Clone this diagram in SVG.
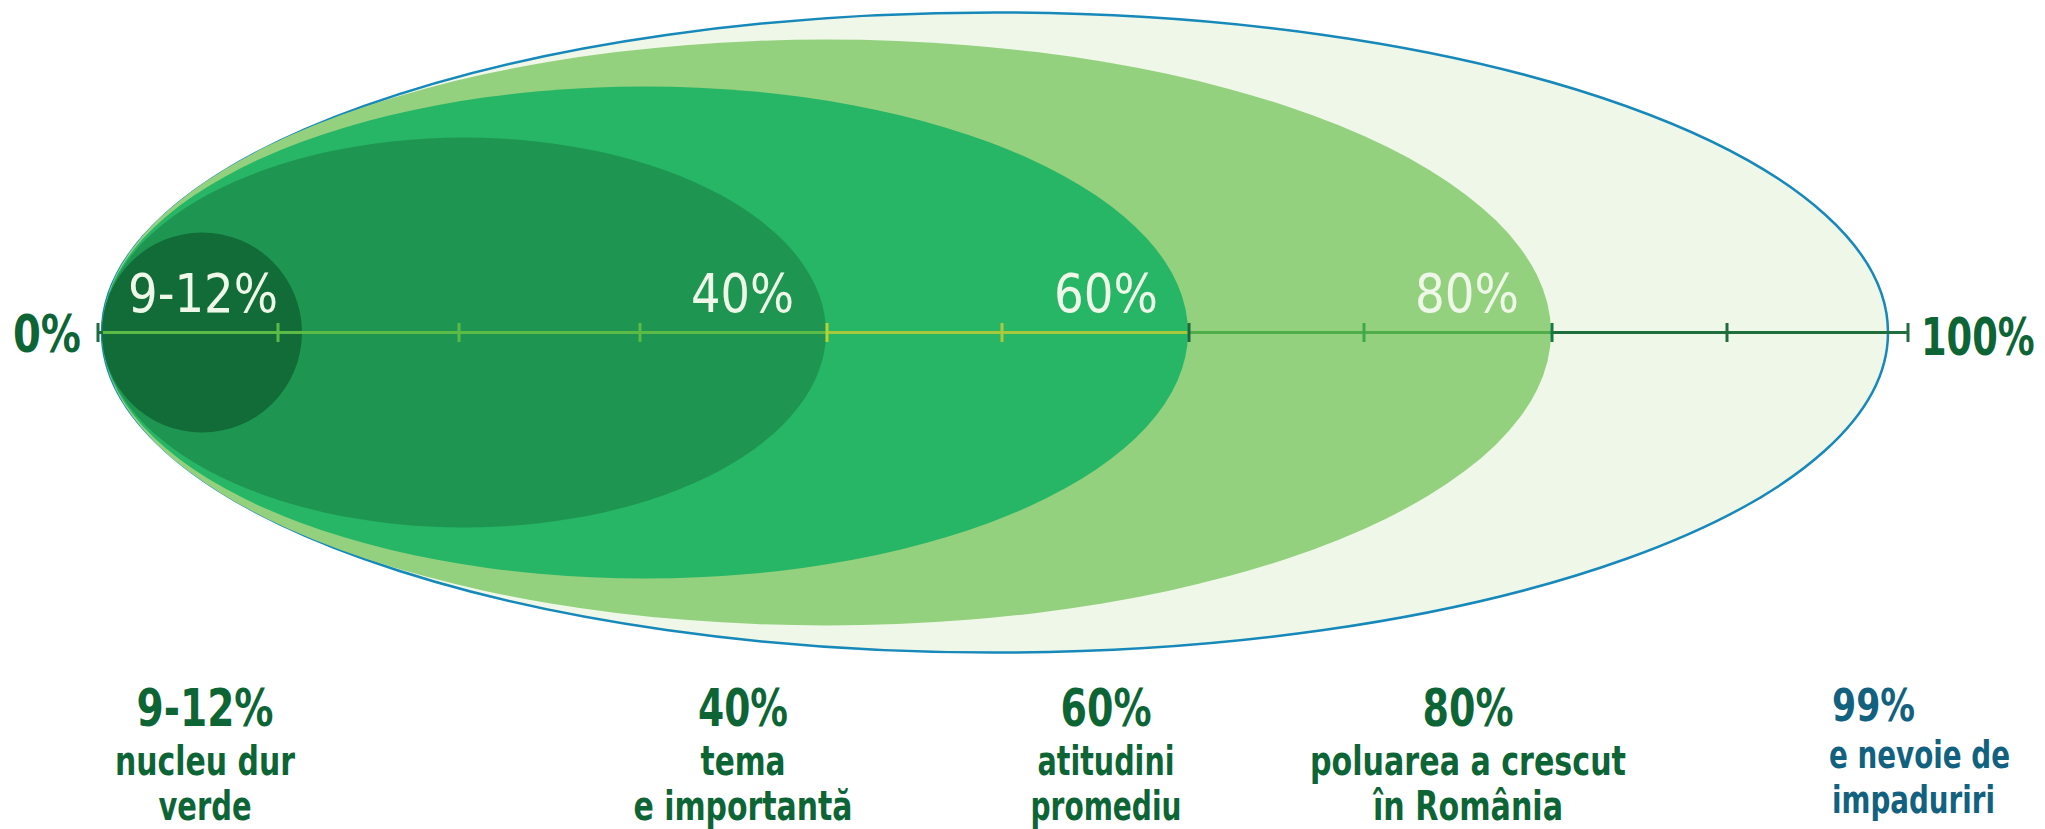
<svg xmlns="http://www.w3.org/2000/svg" width="2045" height="829" viewBox="0 0 2045 829">
<style>
.lbl{font-family:"DejaVu Sans Condensed","DejaVu Sans","Liberation Sans",sans-serif;}
.inner{font-size:54px;fill:#eff8e8;font-weight:normal;}
.end{font-size:51px;fill:#0d6536;font-weight:bold;}
.pct{font-size:52px;font-weight:bold;fill:#0d6536;text-anchor:middle;}
.sub{font-size:40px;font-weight:bold;fill:#0d6536;text-anchor:middle;}
.blue{fill:#12617f;text-anchor:start;}
.tk{stroke-width:3;}
</style>
<rect width="2045" height="829" fill="#ffffff"/>
<g id="ring-100">
<ellipse cx="995" cy="332.5" rx="893" ry="320" fill="#eff8e8" stroke="#1688b9" stroke-width="2.5"/>
</g>
<g id="ring-80">
<ellipse cx="826.5" cy="332.5" rx="724.5" ry="293" fill="#94d17f"/>
</g>
<g id="ring-60">
<ellipse cx="645" cy="332.5" rx="543" ry="246" fill="#27b566"/>
</g>
<g id="ring-40">
<ellipse cx="464" cy="332.5" rx="362" ry="195" fill="#1e9651"/>
</g>
<g id="ring-core">
<circle cx="202" cy="332.5" r="100" fill="#126c38"/>
</g>
<g id="axis">
<line x1="98" y1="332.5" x2="827" y2="332.5" stroke="#5cba47" stroke-width="3"/>
<line x1="98" y1="332.5" x2="103" y2="332.5" stroke="#1f6a3e" stroke-width="3"/>
<line x1="827" y1="332.5" x2="1189" y2="332.5" stroke="#a8c83c" stroke-width="3"/>
<line x1="1189" y1="332.5" x2="1552" y2="332.5" stroke="#4fae4a" stroke-width="3"/>
<line x1="1552" y1="332.5" x2="1908" y2="332.5" stroke="#1f6e3e" stroke-width="3"/>
<g class="tk">
<line x1="98" y1="323" x2="98" y2="342" stroke="#1f6a3e"/>
<line x1="278" y1="323" x2="278" y2="342" stroke="#5cba47"/>
<line x1="459" y1="323" x2="459" y2="342" stroke="#5cba47"/>
<line x1="640" y1="323" x2="640" y2="342" stroke="#5cba47"/>
<line x1="827" y1="323" x2="827" y2="342" stroke="#b5d334"/>
<line x1="1002" y1="323" x2="1002" y2="342" stroke="#aacb3a"/>
<line x1="1189" y1="323" x2="1189" y2="342" stroke="#1a6b3c"/>
<line x1="1364" y1="323" x2="1364" y2="342" stroke="#3fa84a"/>
<line x1="1552" y1="323" x2="1552" y2="342" stroke="#157a40"/>
<line x1="1727" y1="323" x2="1727" y2="342" stroke="#226b3f"/>
<line x1="1908" y1="323" x2="1908" y2="342" stroke="#226b3f"/>
</g>
</g>
<g id="axis-labels">
<text class="lbl end" x="13" y="352" textLength="68" lengthAdjust="spacingAndGlyphs">0%</text>
<g transform="translate(1921,355) scale(0.72,1)">
<text class="lbl end" x="0" y="0" textLength="158" lengthAdjust="spacingAndGlyphs">100%</text>
</g>
</g>
<g id="inner-labels">
<text class="lbl inner" x="128" y="312" textLength="150" lengthAdjust="spacingAndGlyphs">9-12%</text>
<text class="lbl inner" x="691" y="312" textLength="103" lengthAdjust="spacingAndGlyphs">40%</text>
<text class="lbl inner" x="1054" y="312" textLength="104" lengthAdjust="spacingAndGlyphs">60%</text>
<text class="lbl inner" x="1415" y="312" textLength="104" lengthAdjust="spacingAndGlyphs">80%</text>
</g>
<g id="label-core">
<text class="lbl pct" x="205" y="726" textLength="137" lengthAdjust="spacingAndGlyphs">9-12%</text>
<text class="lbl sub" x="205" y="775" textLength="180" lengthAdjust="spacingAndGlyphs">nucleu dur</text>
<text class="lbl sub" x="205" y="820" textLength="93" lengthAdjust="spacingAndGlyphs">verde</text>
</g>
<g id="label-40">
<text class="lbl pct" x="743" y="726" textLength="90" lengthAdjust="spacingAndGlyphs">40%</text>
<text class="lbl sub" x="743" y="775" textLength="85" lengthAdjust="spacingAndGlyphs">tema</text>
<text class="lbl sub" x="743" y="820" textLength="219" lengthAdjust="spacingAndGlyphs">e importantă</text>
</g>
<g id="label-60">
<text class="lbl pct" x="1106" y="726" textLength="91" lengthAdjust="spacingAndGlyphs">60%</text>
<text class="lbl sub" x="1106" y="775" textLength="137" lengthAdjust="spacingAndGlyphs">atitudini</text>
<text class="lbl sub" x="1106" y="820" textLength="151" lengthAdjust="spacingAndGlyphs">promediu</text>
</g>
<g id="label-80">
<text class="lbl pct" x="1468" y="726" textLength="91" lengthAdjust="spacingAndGlyphs">80%</text>
<text class="lbl sub" x="1468" y="775" textLength="316" lengthAdjust="spacingAndGlyphs">poluarea a crescut</text>
<text class="lbl sub" x="1468" y="820" textLength="190" lengthAdjust="spacingAndGlyphs">în România</text>
</g>
<g id="label-99">
<text class="lbl pct blue" x="1832" y="721" style="font-size:44px" textLength="83" lengthAdjust="spacingAndGlyphs">99%</text>
<text class="lbl sub blue" x="1829" y="768" style="font-size:37px" textLength="181" lengthAdjust="spacingAndGlyphs">e nevoie de</text>
<text class="lbl sub blue" x="1832" y="813" style="font-size:37px" textLength="163" lengthAdjust="spacingAndGlyphs">impaduriri</text>
</g>
</svg>
